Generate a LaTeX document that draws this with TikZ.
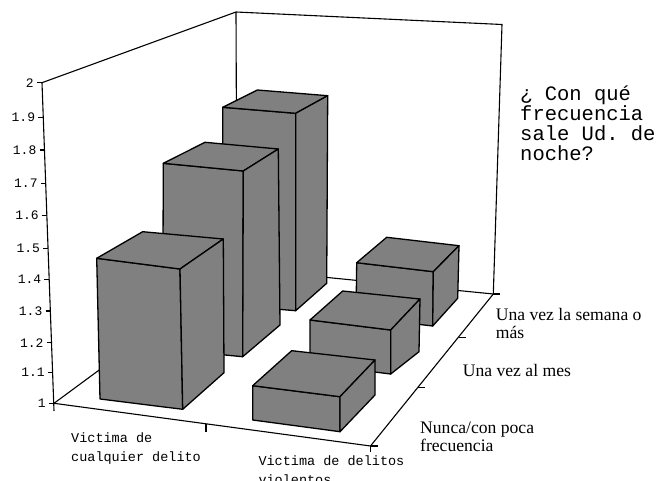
\documentclass[tikz,border=0pt]{standalone}
\usepackage{fontspec}
\setmainfont{Liberation Serif}
\setmonofont{Liberation Mono}
\usepackage{tikz}

\tikzset{
  frame/.style={line width=1.1pt},
  barface/.style={fill=gray, draw=black, line width=1.3pt, line join=round},
  ylab/.style={anchor=east, inner sep=1pt, font=\ttfamily\fontsize{13}{13}\selectfont},
  xlab/.style={anchor=base west, inner sep=0pt, align=left, font=\ttfamily\fontsize{13.5}{19}\selectfont},
  zlab/.style={anchor=base west, inner sep=0pt, align=left, font=\fontsize{17.6}{18}\selectfont},
  qlab/.style={anchor=base west, inner sep=0pt, align=left, font=\ttfamily\fontsize{20.5}{20}\selectfont}
}

% front TL, front TR, front BR, front BL, back TL, back TR, back BR
\newcommand{\prism}[7]{%
  \filldraw[barface] (#1) -- (#2) -- (#3) -- (#4) -- cycle;
  \filldraw[barface] (#1) -- (#5) -- (#6) -- (#2) -- cycle;
  \filldraw[barface] (#2) -- (#6) -- (#7) -- (#3) -- cycle;
}

\begin{document}
\begin{tikzpicture}[x=1pt,y=-1pt]
\useasboundingbox (0,0) rectangle (659,481);
% walls and floor
\draw[frame] (42,82.7) -- (236,12) -- (502,24.5) -- (493.3,294);
\draw[frame] (236,12) -- (237,268.5);
\draw[frame] (54,403.3) -- (237,268.5) -- (493.3,294);
\draw[frame] (54,403.3) -- (370.5,446) -- (493.3,294);
\draw[frame] (42,82.7) -- (54,411);
% value axis
\foreach \v/\y [count=\i] in {2/82.7,1.9/117.2,1.8/150,1.7/183.3,1.6/215.7,1.5/248.3,1.4/279.5,1.3/311,1.2/342.7,1.1/372.7,1/403.3} {
  \pgfmathsetmacro\ax{42+12*(\y-82.7)/320.6}
  \draw[frame] (\ax-5,\y) -- (\ax,\y);
  \node[ylab] (yl\i) at (\ax-7,\y) {\v};
}
% category ticks
\draw[frame] (206,423.8) -- (206,432);
\draw[frame] (370.5,446) -- (370.5,452);
\foreach \x/\y in {370.5/446,418/387.7,458.5/337.5,493.3/294} {
  \draw[frame] (\x,\y) -- (\x+7,\y);
}
% bars, back row first
\prism{222.7,107.3}{295.7,113.3}{295.7,310.7}{222.7,304.7}{257.3,90}{327.7,95.7}{326.7,283.3}
\prism{356.7,262.7}{433.3,271.7}{432.7,326}{356,317}{386.7,237.3}{459,245.7}{457.7,298.3}
\prism{163.3,163.3}{243.3,171}{242.7,356.7}{162.7,349}{205,142.3}{278.3,149}{280,325}
\prism{310,320}{390.7,330}{390.7,374}{310,364}{342.7,291}{420,299}{419,351.7}
\prism{96.7,258.3}{180,269}{182.7,409.3}{100,399}{142.7,231.7}{223.3,239}{224,372.7}
\prism{252.7,385.7}{340,396.7}{340,431.7}{252.7,420}{291.7,350.7}{375,360}{375,395}
% labels (anchored at the last line)
\node[xlab] (cualq) at (71,461.3) {Victima de\\cualquier delito};
\node[xlab] (viol) at (258.3,484.7) {Victima de delitos\\violentos};
\node[zlab] (semana) at (495.7,338) {Una vez la semana o\\más};
\node[zlab] (mes) at (462.7,376) {Una vez al mes};
\node[zlab] (nunca) at (420,451.3) {Nunca/con poca\\frecuencia};
\node[qlab] (pregunta) at (520,160.5) {¿ Con qué\\frecuencia\\sale Ud. de\\noche?};
\end{tikzpicture}
\end{document}
